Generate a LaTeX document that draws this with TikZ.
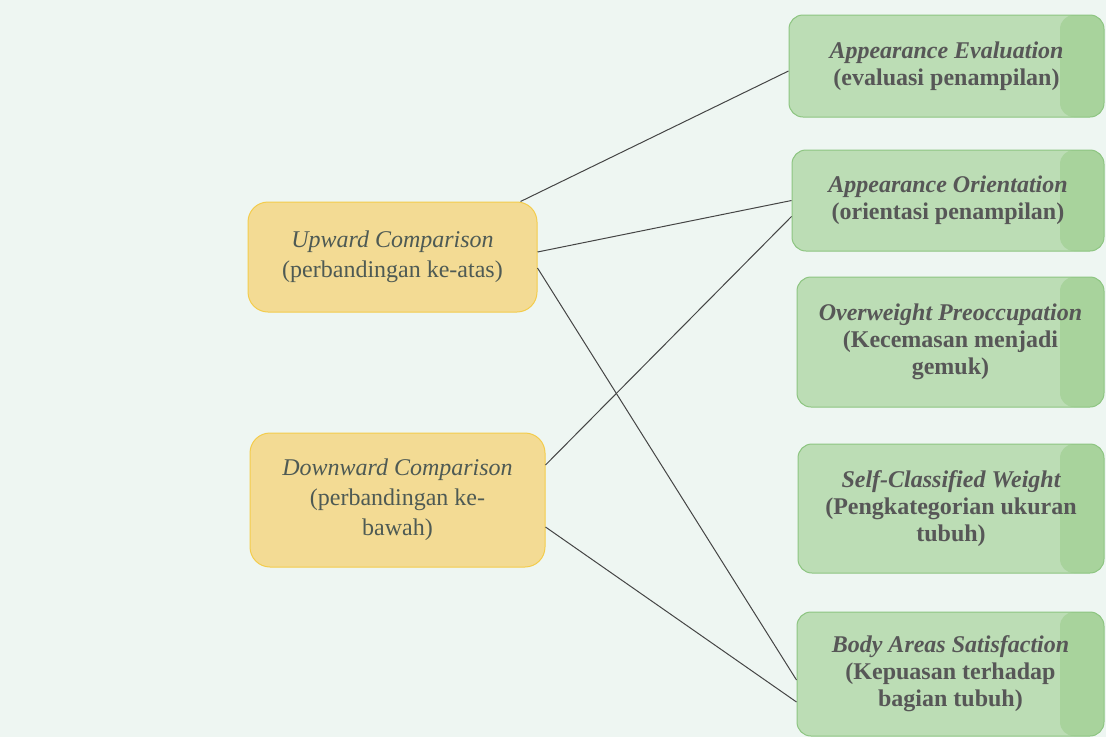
\documentclass[tikz,border=0pt]{standalone}
\usepackage{fontspec}
\setmainfont{Liberation Serif}
\definecolor{bgmint}{HTML}{EEF6F2}
\definecolor{yelfill}{HTML}{F3DB94}
\definecolor{yeldraw}{HTML}{F3CC4C}
\definecolor{yeltext}{HTML}{4E5A54}
\definecolor{grnfill}{HTML}{BCDDB5}
\definecolor{grnstrip}{HTML}{A8D39C}
\definecolor{grndraw}{HTML}{8DC581}
\definecolor{grntext}{HTML}{575757}
\definecolor{linkgray}{HTML}{454545}
\begin{document}
\begin{tikzpicture}[x=1pt,y=-1pt,
    yellowbox/.style={draw=yeldraw,fill=yelfill,line width=1pt,rounded corners=20pt,
      align=center,text=yeltext,font=\fontsize{24}{30}\selectfont,inner sep=0pt},
    greenbox/.style={draw=grndraw,fill=grnfill,line width=1pt,rounded corners=14pt,
      align=center,text=grntext,font=\fontsize{24}{27}\selectfont\bfseries,inner sep=0pt,
      path picture={\fill[grnstrip] ([xshift=-44pt]path picture bounding box.north east)
        rectangle (path picture bounding box.south east);}},
    link/.style={draw=linkgray,line width=1pt}]
      \fill[bgmint] (0,0) rectangle (1106,737);
      \useasboundingbox (0,0) rectangle (1106,737);
      \draw
        (392.5,257) node[yellowbox,minimum width=289pt,minimum height=110pt] (up)
          {\itshape Upward Comparison\\(perbandingan ke-atas)}
        (397.5,500) node[yellowbox,minimum width=295pt,minimum height=134pt] (down)
          {\itshape Downward Comparison\\(perbandingan ke-\\bawah)}
        (946.5,66) node[greenbox,minimum width=315pt,minimum height=102pt] (eval)
          {\itshape Appearance Evaluation\\(evaluasi penampilan)}
        (948,200.5) node[greenbox,minimum width=312pt,minimum height=101pt] (orient)
          {\itshape Appearance Orientation\\(orientasi penampilan)}
        (950.5,342) node[greenbox,minimum width=307pt,minimum height=130pt] (preocc)
          {\itshape Overweight Preoccupation\\(Kecemasan menjadi\\gemuk)}
        (951,508.5) node[greenbox,minimum width=306pt,minimum height=129pt] (weight)
          {\itshape Self-Classified Weight\\(Pengkategorian ukuran\\tubuh)}
        (950.5,674) node[greenbox,minimum width=307pt,minimum height=124pt] (areas)
          {\itshape Body Areas Satisfaction\\(Kepuasan terhadap\\bagian tubuh)};
      \begin{scope}[link]
        \draw ([xshift=-17pt]up.north east) to ([yshift=-5pt]eval.west);
        \draw ([yshift=5pt]up.east) to (orient.west);
        \draw ([yshift=-11pt]up.east) to ([yshift=-6pt]areas.west);
        \draw ([yshift=35pt]down.east) to ([yshift=-16pt]orient.west);
        \draw ([yshift=-27pt]down.east) to ([yshift=-28pt]areas.west);
      \end{scope}
    \end{tikzpicture}
\end{document}
